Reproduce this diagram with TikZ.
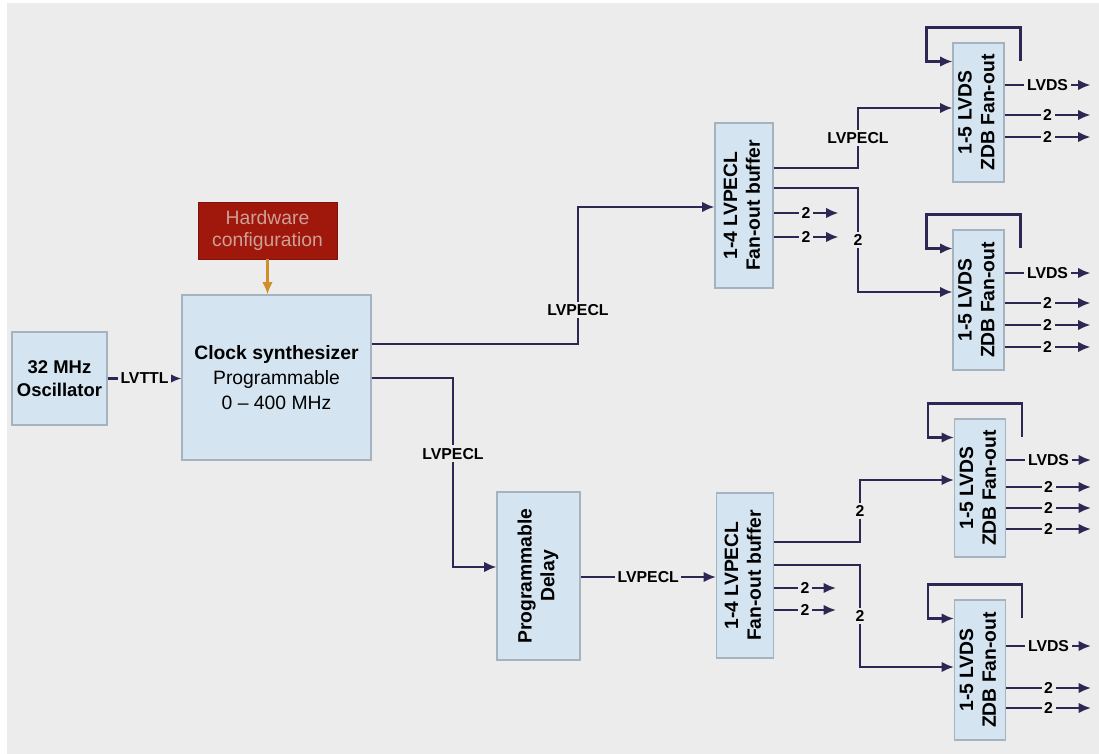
\documentclass[tikz,border=0pt]{standalone}
\usepackage{fontspec}
\setmainfont{Liberation Sans}
\usepackage{graphicx}
\usetikzlibrary{arrows.meta, calc}
\definecolor{bg}{RGB}{236,236,236}
\definecolor{boxfill}{RGB}{212,228,240}
\definecolor{boxline}{RGB}{165,178,192}
\definecolor{wire}{RGB}{48,38,84}
\definecolor{hwred}{RGB}{160,24,12}
\definecolor{hwtext}{RGB}{205,160,150}
\definecolor{hwarrow}{RGB}{210,140,40}
\newcommand*{\vtext}[1]{\rotatebox{90}{\begin{tabular}{@{}c@{}}#1\end{tabular}}}

\begin{document}
\begin{tikzpicture}[x=0.02cm, y=-0.02cm, >={Latex[length=7pt,width=6pt]},
    blk/.style={draw=boxline, fill=boxfill, line width=0.6pt, inner sep=0pt,
      font=\fontsize{11}{13}\selectfont\bfseries},
    zdb/.style={blk, minimum width=1.02cm, minimum height=2.8cm},
    sig/.style={draw=wire, line width=1.3pt},
    lbl/.style={fill=bg, inner sep=1.5pt, font=\fontsize{9}{10}\selectfont\bfseries}]
  \useasboundingbox (0,0) rectangle (1099,754);
  \fill[bg] (7,3) rectangle (1099,754);

  % blocks
  \node[blk, minimum width=1.9cm, minimum height=1.86cm, align=center,
    font=\fontsize{10.5}{13}\selectfont\bfseries] (osc) at (59.5,378.5) {32 MHz\\Oscillator};
  \node[blk, minimum width=3.78cm, minimum height=3.3cm, align=center,
    font=\fontsize{11}{14}\selectfont] (synth) at (276.5,377.5)
    {\textbf{Clock synthesizer}\\Programmable\\0 -- 400 MHz};
  \node[draw=hwred!80!black, fill=hwred, minimum width=2.78cm, minimum height=1.14cm,
    align=center, text=hwtext, font=\fontsize{11}{13}\selectfont] (hw) at (267.5,230.5)
    {Hardware\\configuration};
  \node[blk, minimum width=1.16cm, minimum height=3.3cm] (buf1) at (744,205.5)
    {\vtext{1-4 LVPECL\\Fan-out buffer}};
  \node[blk, minimum width=1.66cm, minimum height=3.36cm] (delay) at (538.5,576)
    {\vtext{Programmable\\Delay}};
  \node[blk, minimum width=1.14cm, minimum height=3.3cm] (buf2) at (745,575.5)
    {\vtext{1-4 LVPECL\\Fan-out buffer}};
  \node[zdb, minimum height=2.78cm] (zdb1) at (978.5,112.5) {\vtext{1-5 LVDS\\ZDB Fan-out}};
  \node[zdb] (zdb2) at (978.5,300) {\vtext{1-5 LVDS\\ZDB Fan-out}};
  \node[zdb, minimum height=2.76cm] (zdb3) at (980,488) {\vtext{1-5 LVDS\\ZDB Fan-out}};
  \node[zdb] (zdb4) at (980,670) {\vtext{1-5 LVDS\\ZDB Fan-out}};

  % clock path
  \draw[sig,->] (osc.east) -- node[lbl]{LVTTL} (osc.east -| synth.west);
  \draw[hwarrow, line width=1.3pt, ->] (hw.south) -- (hw.south |- synth.north);
  \draw[sig,->] (synth.east |- 0,344) -| node[lbl, pos=0.625]{LVPECL} (578,207)
    -- (buf1.west |- 0,207);
  \draw[sig,->] (synth.east |- 0,378) -| node[lbl, pos=0.7]{LVPECL} (453,567)
    -- (delay.west |- 0,567);
  \draw[sig,->] (delay.east |- 0,577) -- node[lbl]{LVPECL} (buf2.west |- 0,577);

  % fan-out buffers
  \draw[sig,->] (buf1.east |- 0,168) -| node[lbl, pos=0.75]{LVPECL} (858,108)
    -- (zdb1.west |- 0,108);
  \draw[sig,->] (buf1.east |- 0,188) -| node[lbl, pos=0.75]{2} (858,292)
    -- (zdb2.west |- 0,292);
  \draw[sig,->] (buf2.east |- 0,542) -| node[lbl, pos=0.75]{2} (860,480)
    -- (zdb3.west |- 0,480);
  \draw[sig,->] (buf2.east |- 0,565) -| node[lbl, pos=0.75]{2} (860,667)
    -- (zdb4.west |- 0,667);
  \foreach \y in {213,237} \draw[sig,->] (buf1.east |- 0,\y) -- node[lbl]{2} ++(65,0);
  \foreach \y in {588,610} \draw[sig,->] (buf2.east |- 0,\y) -- node[lbl]{2} ++(62,0);

  % zero delay feedback
  \foreach \n in {zdb1,zdb2,zdb3,zdb4}
    \draw[sig,->] ($(\n.north east)+(16,19)$) |- ($(\n.north west)+(-26,-15)$)
      |- ($(\n.north west)+(0,19)$);

  % outputs
  \foreach \y/\t in {85/LVDS,115/2,137/2}
    \draw[sig,->] (zdb1.east |- 0,\y) -- node[lbl]{\t} ++(86,0);
  \foreach \y/\t in {273/LVDS,303/2,325/2,347/2}
    \draw[sig,->] (zdb2.east |- 0,\y) -- node[lbl]{\t} ++(86,0);
  \foreach \y/\t in {460/LVDS,487/2,508/2,529/2}
    \draw[sig,->] (zdb3.east |- 0,\y) -- node[lbl]{\t} ++(85,0);
  \foreach \y/\t in {646/LVDS,688/2,708/2}
    \draw[sig,->] (zdb4.east |- 0,\y) -- node[lbl]{\t} ++(85,0);
\end{tikzpicture}
\end{document}
